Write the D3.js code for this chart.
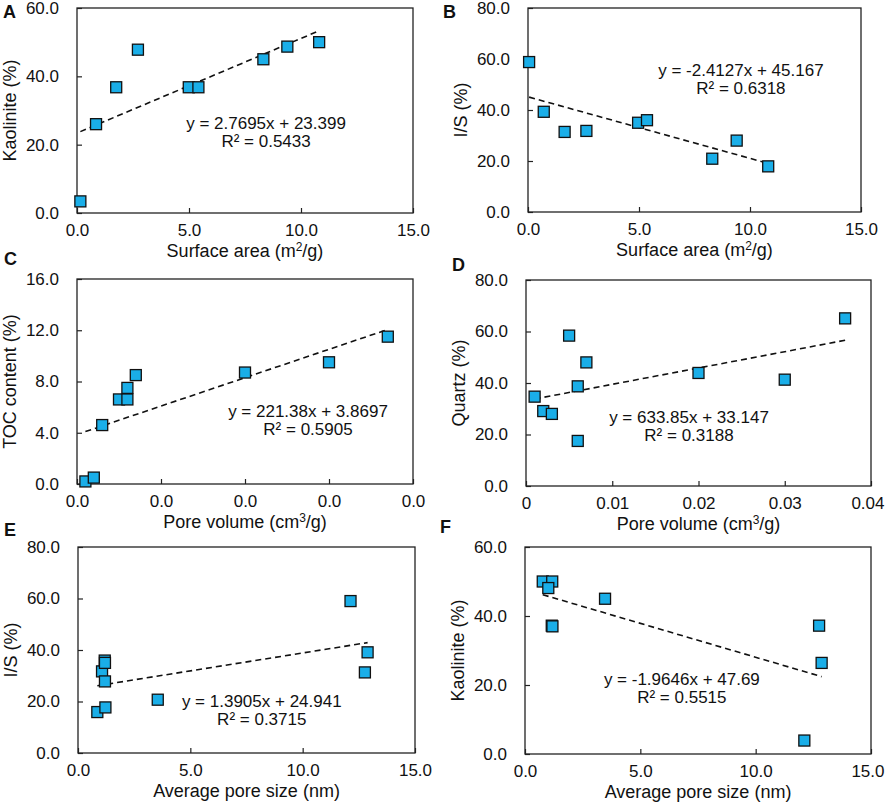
<!DOCTYPE html>
<html>
<head>
<meta charset="utf-8">
<script src="https://cdn.jsdelivr.net/npm/d3@7"></script>
<style>
  html, body { margin: 0; padding: 0; background: #fff; }
  svg { display: block; font-family: "Liberation Sans", Arial, sans-serif; }
</style>
</head>
<body>
<svg id="chart" width="886" height="803"></svg>
<script>
// ---------------- DATA ----------------
const panelLetters = ["A", "B", "C", "D", "E", "F"];

// A: Surface area vs Kaolinite
const surfaceAreaA = [0.15, 0.85, 1.75, 2.72, 4.99, 5.42, 8.32, 9.39, 10.81];
const kaoliniteA   = [3.4, 26.0, 36.8, 47.8, 36.8, 36.8, 45.0, 48.7, 50.0];

// B: Surface area vs I/S
const surfaceAreaB = [0.05, 0.71, 1.65, 2.63, 4.96, 5.36, 8.30, 9.40, 10.82];
const illiteSmectiteB = [58.8, 39.3, 31.4, 31.8, 35.0, 36.0, 20.9, 28.0, 17.9];

// C: Pore volume vs TOC
const poreVolumeC = [0.001, 0.002, 0.003, 0.005, 0.006, 0.006, 0.007, 0.020, 0.030, 0.037];
const tocC        = [0.2, 0.5, 4.6, 6.6, 6.6, 7.5, 8.5, 8.7, 9.5, 11.5];

// D: Pore volume vs Quartz
const poreVolumeD = [0.001, 0.002, 0.003, 0.005, 0.006, 0.006, 0.007, 0.020, 0.030, 0.037];
const quartzD     = [34.7, 29.1, 28.0, 58.4, 38.7, 17.5, 48.0, 43.9, 41.3, 65.1];

// E: Average pore size vs I/S
const poreSizeE = [0.86, 1.07, 1.19, 1.20, 1.20, 1.22, 3.55, 12.13, 12.77, 12.89];
const illiteSmectiteE = [15.9, 31.7, 35.9, 35.0, 27.8, 17.7, 20.7, 59.0, 31.3, 39.1];

// F: Average pore size vs Kaolinite
const poreSizeF  = [0.77, 1.18, 1.01, 1.16, 1.19, 3.47, 12.75, 12.86, 12.11];
const kaoliniteF = [50.0, 50.0, 48.1, 37.2, 37.0, 45.0, 37.2, 26.4, 3.9];

// Trendlines (linear fits as printed)
const slopes     = [2.7695, -2.4127, 221.38, 633.85, 1.3905, -1.9646];
const intercepts = [23.399, 45.167, 3.8697, 33.147, 24.941, 47.69];
const equationTexts = [
  "y = 2.7695x + 23.399", "y = -2.4127x + 45.167", "y = 221.38x + 3.8697",
  "y = 633.85x + 33.147", "y = 1.3905x + 24.941", "y = -1.9646x + 47.69"
];
const r2Texts = ["R² = 0.5433", "R² = 0.6318", "R² = 0.5905", "R² = 0.3188", "R² = 0.3715", "R² = 0.5515"];

// Axis titles and ticks
const xTitles = ["Surface area (m|2|/g)", "Surface area (m|2|/g)", "Pore volume  (cm|3|/g)",
                 "Pore volume  (cm|3|/g)", "Average pore size (nm)", "Average pore size (nm)"];
const yTitles = ["Kaolinite (%)", "I/S (%)", "TOC content (%)", "Quartz (%)", "I/S (%)", "Kaolinite (%)"];
const xTicksSurface = [0, 5, 10, 15];
const xTicksPoreVol = [0, 0.01, 0.02, 0.03, 0.04];
const xTicksPoreSize = [0, 5, 10, 15];
const yTicks60 = [0, 20, 40, 60];
const yTicks80 = [0, 20, 40, 60, 80];
const yTicks16 = [0, 4, 8, 12, 16];
const xTickLabelsD = ["0", "0.01", "0.02", "0.03", "0.04"];

// Equation label anchor (in data units of each panel)
const eqAnchorX = [8.44, 9.59, 0.0275, 0.0189, 8.18, 6.8];
const eqAnchorY = [24.5, 53.5, 5.2, 24.5, 17.8, 20.0];

// ---------------- LAYOUT ----------------
const frames = [
  {l: 77, r: 413, t: 8, b: 213},
  {l: 528, r: 861, t: 8, b: 212},
  {l: 77, r: 413, t: 279, b: 484},
  {l: 526, r: 871, t: 280, b: 486},
  {l: 78, r: 415, t: 547, b: 753},
  {l: 525, r: 871, t: 547, b: 754}
];
const letterPos = [[3, 18], [443, 18], [4, 265], [452, 271], [4, 536], [440, 533]];

const panels = [
  {x: surfaceAreaA, y: kaoliniteA, xt: xTicksSurface, yt: yTicks60, xfmt: d3.format(".1f")},
  {x: surfaceAreaB, y: illiteSmectiteB, xt: xTicksSurface, yt: yTicks80, xfmt: d3.format(".1f")},
  {x: poreVolumeC, y: tocC, xt: xTicksPoreVol, yt: yTicks16, xfmt: d3.format(".1f")},
  {x: poreVolumeD, y: quartzD, xt: xTicksPoreVol, yt: yTicks80, xfmt: (d, i) => xTickLabelsD[i]},
  {x: poreSizeE, y: illiteSmectiteE, xt: xTicksPoreSize, yt: yTicks80, xfmt: d3.format(".1f")},
  {x: poreSizeF, y: kaoliniteF, xt: xTicksPoreSize, yt: yTicks60, xfmt: d3.format(".1f")}
];

const svg = d3.select("#chart");
const MARK = 11;

panels.forEach((p, i) => {
  const f = frames[i];
  const xs = d3.scaleLinear().domain(d3.extent(p.xt)).range([f.l, f.r]);
  const ys = d3.scaleLinear().domain(d3.extent(p.yt)).range([f.b, f.t]);
  const g = svg.append("g");

  // axes (ticks inside)
  const xa = g.append("g").attr("transform", `translate(0,${f.b})`)
    .call(d3.axisBottom(xs).tickValues(p.xt).tickFormat(p.xfmt).tickSize(-5).tickPadding(11));
  const ya = g.append("g").attr("transform", `translate(${f.l},0)`)
    .call(d3.axisLeft(ys).tickValues(p.yt).tickFormat(d3.format(".1f")).tickSize(-5).tickPadding(18));
  [xa, ya].forEach(a => {
    a.select(".domain").remove();
    a.selectAll("line").attr("stroke", "#222").attr("stroke-width", 1.2);
    a.selectAll("text").attr("fill", "#111").style("font-size", "17px")
      .style("font-family", "'Liberation Sans', Arial, sans-serif");
  });
  // keep the right-most x label inside the page
  const lastX = xa.selectAll(".tick text").filter((d, k, n) => k === n.length - 1);
  const bb = lastX.node().getBBox();
  const absRight = xs(p.xt[p.xt.length - 1]) + bb.x + bb.width;
  if (absRight > 884) lastX.attr("dx", 884 - absRight);

  // frame
  g.append("rect").attr("x", f.l).attr("y", f.t).attr("width", f.r - f.l).attr("height", f.b - f.t)
    .attr("fill", "none").attr("stroke", "#222").attr("stroke-width", 1.3);

  // trendline
  const [x0, x1] = d3.extent(p.x);
  g.append("line")
    .attr("x1", xs(x0)).attr("y1", ys(slopes[i] * x0 + intercepts[i]))
    .attr("x2", xs(x1)).attr("y2", ys(slopes[i] * x1 + intercepts[i]))
    .attr("stroke", "#111").attr("stroke-width", 1.6).attr("stroke-dasharray", "6,4");

  // markers
  g.selectAll("rect.pt").data(p.x.map((v, k) => [v, p.y[k]])).join("rect")
    .attr("class", "pt")
    .attr("x", d => xs(d[0]) - MARK / 2).attr("y", d => ys(d[1]) - MARK / 2)
    .attr("width", MARK).attr("height", MARK)
    .attr("fill", "#1aaee8").attr("stroke", "#111").attr("stroke-width", 1.3);

  // equation
  const ex = xs(eqAnchorX[i]), ey = ys(eqAnchorY[i]);
  g.append("text").attr("x", ex).attr("y", ey).attr("text-anchor", "middle")
    .style("font-size", "17px").attr("fill", "#111").text(equationTexts[i]);
  g.append("text").attr("x", ex).attr("y", ey + 18).attr("text-anchor", "middle")
    .style("font-size", "17px").attr("fill", "#111").text(r2Texts[i]);

  // x title (with superscript)
  const parts = xTitles[i].split("|");
  const xt = g.append("text").attr("x", (f.l + f.r) / 2).attr("y", f.b + 44)
    .attr("text-anchor", "middle").style("font-size", "18px").attr("fill", "#111");
  parts.forEach((s, k) => {
    const ts = xt.append("tspan").text(s);
    if (k === 1) ts.attr("dy", -6).style("font-size", "12px");
    if (k === 2) ts.attr("dy", 6);
  });

  // y title
  g.append("text")
    .attr("transform", `translate(${f.l - 61},${(f.t + f.b) / 2}) rotate(-90)`)
    .attr("text-anchor", "middle").style("font-size", "18px").attr("fill", "#111")
    .text(yTitles[i]);

  // panel letter
  g.append("text").attr("x", letterPos[i][0]).attr("y", letterPos[i][1])
    .style("font-size", "18px").style("font-weight", "bold").attr("fill", "#111")
    .text(panelLetters[i]);
});
</script>
</body>
</html>
